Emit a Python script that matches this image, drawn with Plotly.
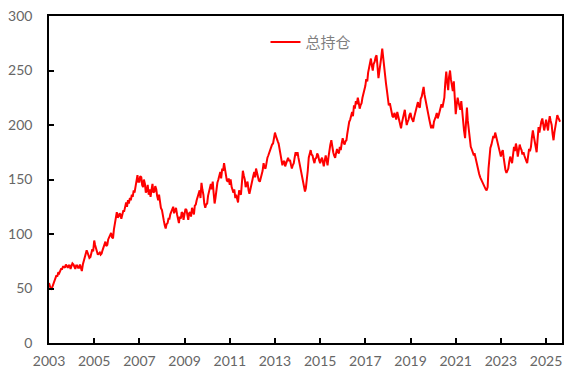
import pandas as pd
import plotly.graph_objects as go

# Semi-monthly total open interest (1st and 15th of each month), 2003-01 .. 2025-08
oi_2003 = [55, 52, 49, 50, 52, 55, 57, 58, 62, 61, 65, 64, 66, 68, 68, 70, 70, 69, 72, 70, 69, 71, 71, 68]
oi_2004 = [70, 73, 72, 70, 68, 71, 71, 69, 69, 72, 67, 66, 72, 75, 78, 82, 85, 83, 80, 78, 79, 82, 86, 84]
oi_2005 = [94, 90, 86, 83, 81, 82, 83, 81, 82, 85, 88, 92, 93, 89, 90, 95, 97, 100, 101, 97, 96, 104, 110, 116]
oi_2006 = [120, 115, 116, 119, 118, 114, 117, 121, 121, 126, 129, 125, 131, 128, 133, 131, 136, 134, 140, 138, 145, 150, 154, 148]
oi_2007 = [148, 153, 152, 145, 143, 150, 146, 138, 140, 145, 136, 141, 134, 140, 146, 138, 139, 144, 141, 135, 131, 136, 128, 124]
oi_2008 = [122, 116, 112, 108, 105, 109, 110, 114, 114, 118, 120, 123, 125, 119, 121, 124, 118, 112, 110, 116, 114, 120, 119, 113]
oi_2009 = [117, 123, 122, 116, 113, 119, 120, 116, 124, 121, 118, 126, 127, 131, 134, 138, 140, 133, 147, 141, 136, 128, 124, 127]
oi_2010 = [128, 135, 140, 145, 146, 141, 148, 138, 128, 133, 142, 147, 150, 154, 157, 151, 160, 158, 165, 160, 152, 149, 148, 151]
oi_2011 = [145, 150, 143, 139, 138, 141, 133, 136, 131, 129, 140, 137, 136, 146, 158, 154, 150, 143, 145, 148, 140, 137, 141, 146]
oi_2012 = [150, 153, 157, 152, 160, 156, 152, 149, 148, 151, 155, 158, 165, 161, 160, 166, 170, 172, 175, 178, 180, 182, 183, 187]
oi_2013 = [193, 190, 188, 185, 183, 178, 176, 170, 163, 166, 167, 162, 165, 169, 170, 167, 168, 164, 160, 163, 165, 170, 175, 172]
oi_2014 = [175, 170, 165, 160, 156, 152, 148, 144, 139, 142, 150, 158, 170, 174, 177, 173, 172, 168, 165, 169, 170, 174, 172, 168]
oi_2015 = [165, 168, 170, 166, 162, 167, 172, 168, 163, 170, 178, 182, 186, 180, 175, 172, 170, 174, 178, 175, 174, 180, 177, 183]
oi_2016 = [188, 184, 182, 185, 186, 192, 200, 203, 205, 210, 212, 208, 218, 215, 222, 219, 225, 221, 215, 218, 220, 225, 228, 232]
oi_2017 = [236, 242, 240, 248, 252, 258, 261, 255, 250, 256, 258, 262, 264, 255, 243, 249, 255, 262, 270, 262, 250, 245, 238, 232]
oi_2018 = [224, 218, 220, 215, 212, 208, 207, 211, 209, 205, 212, 208, 204, 200, 197, 202, 206, 210, 214, 207, 200, 203, 205, 209]
oi_2019 = [211, 207, 205, 203, 207, 211, 214, 218, 221, 217, 216, 224, 226, 230, 235, 228, 222, 218, 214, 210, 205, 201, 197, 200]
oi_2020 = [197, 203, 205, 208, 211, 206, 209, 212, 215, 219, 216, 221, 225, 238, 249, 240, 232, 244, 250, 242, 235, 231, 240, 225]
oi_2021 = [210, 218, 225, 221, 218, 214, 222, 212, 205, 195, 188, 205, 216, 204, 195, 187, 180, 178, 176, 173, 174, 170, 165, 162]
oi_2022 = [159, 155, 152, 150, 148, 146, 145, 143, 141, 140, 143, 160, 175, 179, 182, 185, 190, 188, 193, 190, 186, 181, 177, 174]
oi_2023 = [171, 175, 177, 170, 163, 159, 156, 158, 160, 166, 171, 168, 165, 172, 180, 176, 183, 179, 171, 176, 182, 179, 177, 173]
oi_2024 = [175, 172, 170, 167, 165, 171, 178, 176, 180, 188, 195, 190, 185, 180, 175, 186, 198, 193, 200, 203, 206, 200, 195, 199]
oi_2025 = [205, 200, 195, 203, 208, 204, 200, 192, 186, 193, 200, 206, 209, 207, 205, 203]

values = (oi_2003 + oi_2004 + oi_2005 + oi_2006 + oi_2007 + oi_2008 + oi_2009
          + oi_2010 + oi_2011 + oi_2012 + oi_2013 + oi_2014 + oi_2015 + oi_2016
          + oi_2017 + oi_2018 + oi_2019 + oi_2020 + oi_2021 + oi_2022 + oi_2023
          + oi_2024 + oi_2025)
dates = pd.date_range("2003-01-01", periods=len(values), freq="SMS")

series_name = "总持仓"
y_ticks = [0, 50, 100, 150, 200, 250, 300]

tick_font = dict(family="Lato, 'Liberation Sans', sans-serif", size=14, color="#666666")

fig = go.Figure()
fig.add_trace(go.Scatter(
    x=dates, y=values, mode="lines", name=series_name,
    line=dict(color="#FF0000", width=2),
))

fig.update_layout(
    width=565, height=372,
    margin=dict(l=49, r=1, t=16, b=29),
    paper_bgcolor="white", plot_bgcolor="white",
    showlegend=True,
    legend=dict(
        x=0.422, y=0.97, xanchor="left", yanchor="top",
        bgcolor="rgba(0,0,0,0)",
        font=dict(family="'Noto Sans CJK SC', sans-serif", size=15, color="#7f7f7f"),
    ),
)
fig.update_xaxes(
    range=["2003-01-01", "2025-09-15"],
    dtick="M24", tick0="2003-01-01", tickformat="%Y",
    ticks="inside", ticklen=5, tickcolor="black", tickwidth=1.5,
    showline=True, linecolor="black", linewidth=1.5, mirror=True,
    showgrid=False, zeroline=False,
    tickfont=tick_font, ticklabelstandoff=4,
)
fig.update_yaxes(
    range=[0, 300], tickvals=y_ticks,
    ticks="inside", ticklen=5, tickcolor="black", tickwidth=1.5,
    showline=True, linecolor="black", linewidth=1.5, mirror=True,
    showgrid=False, zeroline=False,
    tickfont=tick_font, ticklabelstandoff=12,
)

fig.write_html("out.html")
